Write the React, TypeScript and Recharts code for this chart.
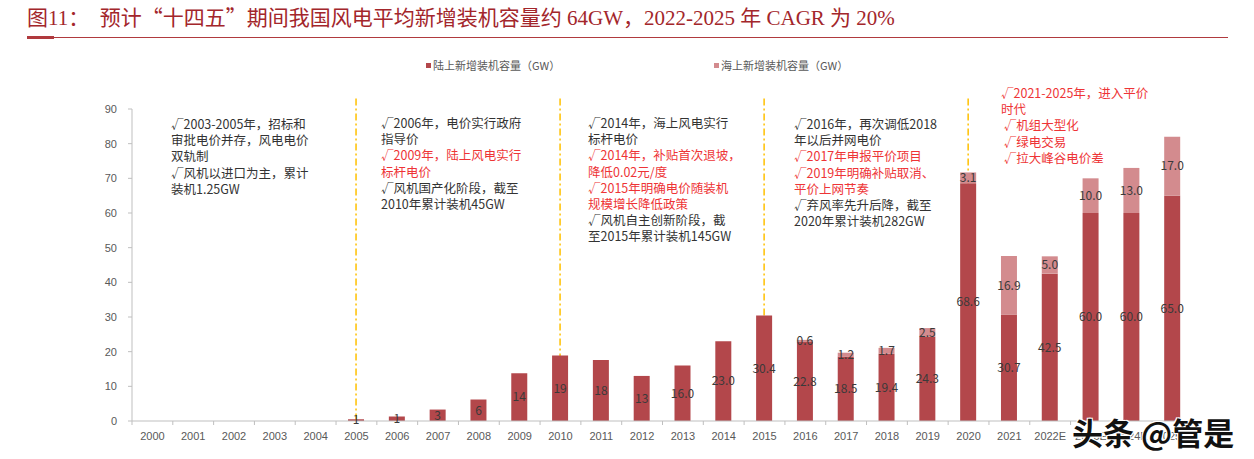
import React from "react";
import { BarChart, Bar, XAxis, YAxis, LabelList } from "recharts";

const years = [
  "2000", "2001", "2002", "2003", "2004", "2005", "2006", "2007", "2008", "2009",
  "2010", "2011", "2012", "2013", "2014", "2015", "2016", "2017", "2018", "2019",
  "2020", "2021", "2022E", "2023E", "2024E", "2025E",
];
// 陆上新增装机容量（GW）
const onshore = [
  0, 0, 0, 0, 0, 0.5, 1.3, 3.3, 6.2, 13.8,
  18.9, 17.6, 13.0, 16.0, 23.0, 30.4, 22.8, 18.5, 19.4, 24.3,
  68.6, 30.7, 42.5, 60.0, 60.0, 65.0,
];
// 海上新增装机容量（GW）
const offshore = [
  0, 0, 0, 0, 0, 0, 0, 0, 0, 0,
  0, 0, 0, 0, 0, 0, 0.6, 1.2, 1.7, 2.5,
  3.1, 16.9, 5.0, 10.0, 13.0, 17.0,
];
const yTicks = [0, 10, 20, 30, 40, 50, 60, 70, 80, 90];
const phaseYears = ["2005", "2010", "2015", "2020"];
const lastIntegerLabelYear = 12; // 2000-2012 labels are shown rounded

const notes1 = [
  { t: "√2003-2005年，招标和" },
  { t: "审批电价并存，风电电价" },
  { t: "双轨制" },
  { t: "√风机以进口为主，累计" },
  { t: "装机1.25GW" },
];
const notes2 = [
  { t: "√2006年，电价实行政府" },
  { t: "指导价" },
  { t: "√2009年，陆上风电实行", red: true },
  { t: "标杆电价", red: true },
  { t: "√风机国产化阶段，截至" },
  { t: "2010年累计装机45GW" },
];
const notes3 = [
  { t: "√2014年，海上风电实行" },
  { t: "标杆电价" },
  { t: "√2014年，补贴首次退坡，", red: true },
  { t: "降低0.02元/度", red: true },
  { t: "√2015年明确电价随装机", red: true },
  { t: "规模增长降低政策", red: true },
  { t: "√风机自主创新阶段，截" },
  { t: "至2015年累计装机145GW" },
];
const notes4 = [
  { t: "√2016年，再次调低2018" },
  { t: "年以后并网电价" },
  { t: "√2017年申报平价项目", red: true },
  { t: "√2019年明确补贴取消、", red: true },
  { t: "平价上网节奏", red: true },
  { t: "√弃风率先升后降，截至" },
  { t: "2020年累计装机282GW" },
];
const notes5 = [
  { t: "√2021-2025年，进入平价", red: true },
  { t: "时代", red: true },
  { t: " √机组大型化", red: true },
  { t: " √绿电交易", red: true },
  { t: " √拉大峰谷电价差", red: true },
];

const data = years.map((year, i) => ({
  year,
  onshore: onshore[i],
  offshore: offshore[i],
  onLabel:
    onshore[i] === 0 ? "" : i <= lastIntegerLabelYear ? String(Math.round(onshore[i])) : onshore[i].toFixed(1),
  offLabel: offshore[i] === 0 ? "" : offshore[i].toFixed(1),
}));

const PLOT_LEFT = 132;
const PLOT_RIGHT = 1193;
const BAND = (PLOT_RIGHT - PLOT_LEFT) / years.length;
const DARK = "#b3474b";
const LIGHT = "#d38b8e";
const RED = "#ee3436";
const AXIS = "#bfbfbf";
const CJK = "'Noto Sans CJK SC', sans-serif";

function XTick(props: any) {
  const { x, y, payload, index } = props;
  return (
    <g>
      <line x1={x - BAND / 2} x2={x - BAND / 2} y1={y} y2={y + 4} stroke={AXIS} />
      {index === years.length - 1 && (
        <line x1={x + BAND / 2} x2={x + BAND / 2} y1={y} y2={y + 4} stroke={AXIS} />
      )}
      <text
        x={x}
        y={y + 15}
        textAnchor="middle"
        dominantBaseline="central"
        fontSize={11}
        fontFamily="'Liberation Sans', Arial, sans-serif"
        fill="#595959"
      >
        {payload.value}
      </text>
    </g>
  );
}

// dashed phase divider drawn as the bar background, so it sits behind the bars
function PhaseLine(props: any) {
  const { x, y, width, height, payload } = props;
  if (!payload || !phaseYears.includes(payload.year)) return <g />;
  const cx = x + width / 2;
  const top = y - (height * 3) / 90;
  return (
    <line x1={cx} x2={cx} y1={top} y2={y + height} stroke="#ffc000" strokeWidth={1.5} strokeDasharray="7 3 2 3" />
  );
}

function Notes({ lines, left, top }: { lines: { t: string; red?: boolean }[]; left: number; top: number }) {
  return (
    <div style={{ position: "absolute", left, top, fontFamily: CJK, fontSize: 12.5, lineHeight: "16.2px", whiteSpace: "pre" }}>
      {lines.map((l, i) => (
        <div key={i} style={{ color: l.red ? RED : "#333" }}>
          {l.t}
        </div>
      ))}
    </div>
  );
}

export default function App() {
  const cjkQuote = { fontFamily: CJK };
  return (
    <div style={{ position: "absolute", left: 0, top: 0, width: 1254, height: 459, background: "#fff", overflow: "hidden" }}>
      <BarChart
        width={1254}
        height={459}
        data={data}
        margin={{ top: 109, right: 1254 - PLOT_RIGHT, bottom: 0, left: PLOT_LEFT - 40 }}
        barSize={16}
      >
        <XAxis
          dataKey="year"
          interval={0}
          height={38}
          tickSize={0}
          tickMargin={0}
          tickLine={false}
          axisLine={{ stroke: AXIS }}
          tick={<XTick />}
        />
        <YAxis
          width={40}
          domain={[0, 90]}
          ticks={yTicks}
          interval={0}
          tickSize={4}
          tickMargin={11}
          axisLine={{ stroke: AXIS }}
          tickLine={{ stroke: AXIS }}
          tick={{ fontSize: 11, fill: "#595959", fontFamily: "'Liberation Sans', Arial, sans-serif" }}
        />
        <Bar dataKey="onshore" stackId="a" fill={DARK} background={PhaseLine} isAnimationActive={false}>
          <LabelList dataKey="onLabel" position="center" fill="#3a3a3a" fontSize={12} fontFamily={CJK} />
        </Bar>
        <Bar dataKey="offshore" stackId="a" fill={LIGHT} isAnimationActive={false}>
          <LabelList dataKey="offLabel" position="center" fill="#3a3a3a" fontSize={12} fontFamily={CJK} />
        </Bar>
      </BarChart>

      {/* title */}
      <div
        style={{
          position: "absolute",
          left: 27,
          top: 4,
          fontSize: 21,
          lineHeight: "25px",
          color: "#a3262b",
          fontFamily: "'Liberation Serif', 'Noto Sans CJK SC', serif",
          whiteSpace: "pre",
        }}
      >
        {"图11：  预计"}
        <span style={cjkQuote}>“</span>
        {"十四五"}
        <span style={cjkQuote}>”</span>
        {"期间我国风电平均新增装机容量约 64GW，2022-2025 年 CAGR 为 20%"}
      </div>
      <div style={{ position: "absolute", left: 27, top: 37, width: 1201, height: 1, background: "#b03a3e" }} />
      <div style={{ position: "absolute", left: 27, top: 36, width: 27, height: 3, background: "#b03a3e" }} />

      {/* legend */}
      <div style={{ position: "absolute", left: 426, top: 63, width: 5, height: 5, background: DARK }} />
      <div style={{ position: "absolute", left: 433, top: 57, fontSize: 11, lineHeight: "16px", color: "#595959", fontFamily: CJK }}>
        陆上新增装机容量（GW）
      </div>
      <div style={{ position: "absolute", left: 714, top: 63, width: 5, height: 5, background: LIGHT }} />
      <div style={{ position: "absolute", left: 721, top: 57, fontSize: 11, lineHeight: "16px", color: "#595959", fontFamily: CJK }}>
        海上新增装机容量（GW）
      </div>

      <Notes lines={notes1} left={171} top={116} />
      <Notes lines={notes2} left={381} top={115} />
      <Notes lines={notes3} left={588} top={115} />
      <Notes lines={notes4} left={794} top={116} />
      <Notes lines={notes5} left={1001} top={85} />

      {/* watermark */}
      <div
        style={{
          position: "absolute",
          left: 1072,
          top: 412,
          fontSize: 31,
          lineHeight: "40px",
          fontWeight: 700,
          color: "#111",
          fontFamily: CJK,
          whiteSpace: "pre",
          textShadow: "1px 1px 0 #fff, -1px -1px 0 #fff, 1px -1px 0 #fff, -1px 1px 0 #fff",
        }}
      >
        头条 @管是
      </div>
    </div>
  );
}
